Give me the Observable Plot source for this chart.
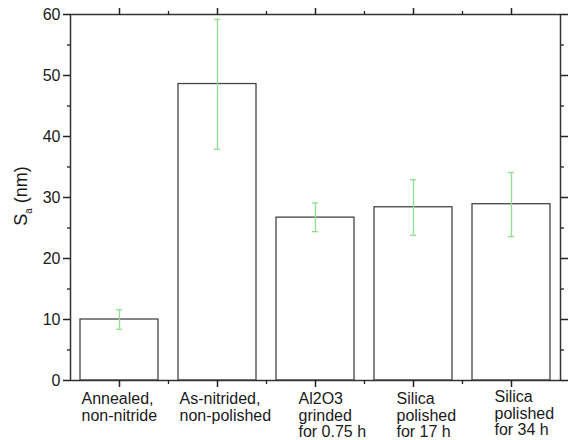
<!DOCTYPE html>
<html>
<head>
<meta charset="utf-8">
<script src="https://cdn.jsdelivr.net/npm/d3@7"></script>
<script src="https://cdn.jsdelivr.net/npm/@observablehq/plot@0.6"></script>
<style>
  body { margin: 0; background: white; }
</style>
</head>
<body>
<div id="chart"></div>
<script>
const categories = [
  "Annealed,\nnon-nitride",
  "As-nitrided,\nnon-polished",
  "Al2O3\ngrinded\nfor 0.75 h",
  "Silica\npolished\nfor 17 h",
  "Silica\npolished\nfor 34 h"
];
const values = [10.0, 48.6, 26.7, 28.4, 28.9];
const errLow = [8.4, 37.9, 24.4, 23.8, 23.6];
const errHigh = [11.6, 59.2, 29.1, 32.9, 34.1];
const yMajorTicks = [0, 10, 20, 30, 40, 50, 60];
const yMinorTicks = [5, 15, 25, 35, 45, 55];

const data = categories.map((c, i) => ({cat: c, val: values[i], lo: errLow[i], hi: errHigh[i], i}));
const green = "#8ee08e";
const font = "'Liberation Sans', Arial, sans-serif";
const labelOpts = {x: "cat", text: "cat", frameAnchor: "bottom", lineAnchor: "top", textAnchor: "start",
  lineHeight: 1.06, fontSize: 16, fill: "#1a1a1a"};

const svg = Plot.plot({
  width: 568,
  height: 440,
  marginLeft: 70,
  marginRight: 8,
  marginTop: 14,
  marginBottom: 60,
  style: {fontFamily: font, fontSize: "16px", color: "#222", background: "white"},
  x: {domain: categories, paddingInner: 0.2, paddingOuter: 0.1, label: null},
  y: {domain: [0, 60], label: null},
  marks: [
    Plot.barY(data, {x: "cat", y: "val", fill: "white", stroke: "#444", strokeWidth: 1.3}),
    Plot.ruleX(data, {x: "cat", y1: "lo", y2: "hi", stroke: green, strokeWidth: 1.3}),
    Plot.tickY(data, {x: "cat", y: "hi", stroke: green, strokeWidth: 1.3, insetLeft: 36, insetRight: 36}),
    Plot.tickY(data, {x: "cat", y: "lo", stroke: green, strokeWidth: 1.3, insetLeft: 36, insetRight: 36}),
    Plot.frame({stroke: "#333", strokeWidth: 1.5}),
    Plot.axisY({ticks: yMajorTicks, tickSize: 7, tickPadding: 3, strokeWidth: 1.5, label: null, fontSize: 16, fill: "#1a1a1a"}),
    Plot.axisY({ticks: yMinorTicks, tickSize: 3, tickFormat: () => "", strokeWidth: 1.3, label: null}),
    Plot.axisY({anchor: "right", ticks: yMajorTicks, tickSize: 7, tickFormat: () => "", strokeWidth: 1.5, label: null}),
    Plot.axisY({anchor: "right", ticks: yMinorTicks, tickSize: 3, tickFormat: () => "", strokeWidth: 1.3, label: null}),
    Plot.axisX({anchor: "bottom", tickSize: 7, tickFormat: () => "", strokeWidth: 1.5, label: null}),
    Plot.axisX({anchor: "top", tickSize: 7, tickFormat: () => "", strokeWidth: 1.5, label: null}),
    Plot.axisX({anchor: "bottom", ticks: categories.slice(0, 4), tickSize: 4, dx: 49, tickFormat: () => "", strokeWidth: 1.3, label: null}),
    Plot.axisX({anchor: "top", ticks: categories.slice(0, 4), tickSize: 4, dx: 49, tickFormat: () => "", strokeWidth: 1.3, label: null}),
    Plot.text(data.filter(d => d.i < 2), {...labelOpts, dx: -38, dy: 11}),
    Plot.text(data.filter(d => d.i >= 2 && d.i < 4), {...labelOpts, dx: -17, dy: 11}),
    Plot.text(data.filter(d => d.i === 4), {...labelOpts, dx: -17, dy: 9})
  ]
});

const lab = d3.select(svg).append("text")
  .attr("transform", "translate(27,196) rotate(-90)")
  .attr("text-anchor", "middle")
  .attr("fill", "#1a1a1a")
  .style("font-family", font)
  .style("font-size", "18px");
lab.append("tspan").text("S");
lab.append("tspan").attr("dy", 5).style("font-size", "10px").text("a");
lab.append("tspan").attr("dy", -5).text(" (nm)");

document.getElementById("chart").appendChild(svg);
</script>
</body>
</html>
